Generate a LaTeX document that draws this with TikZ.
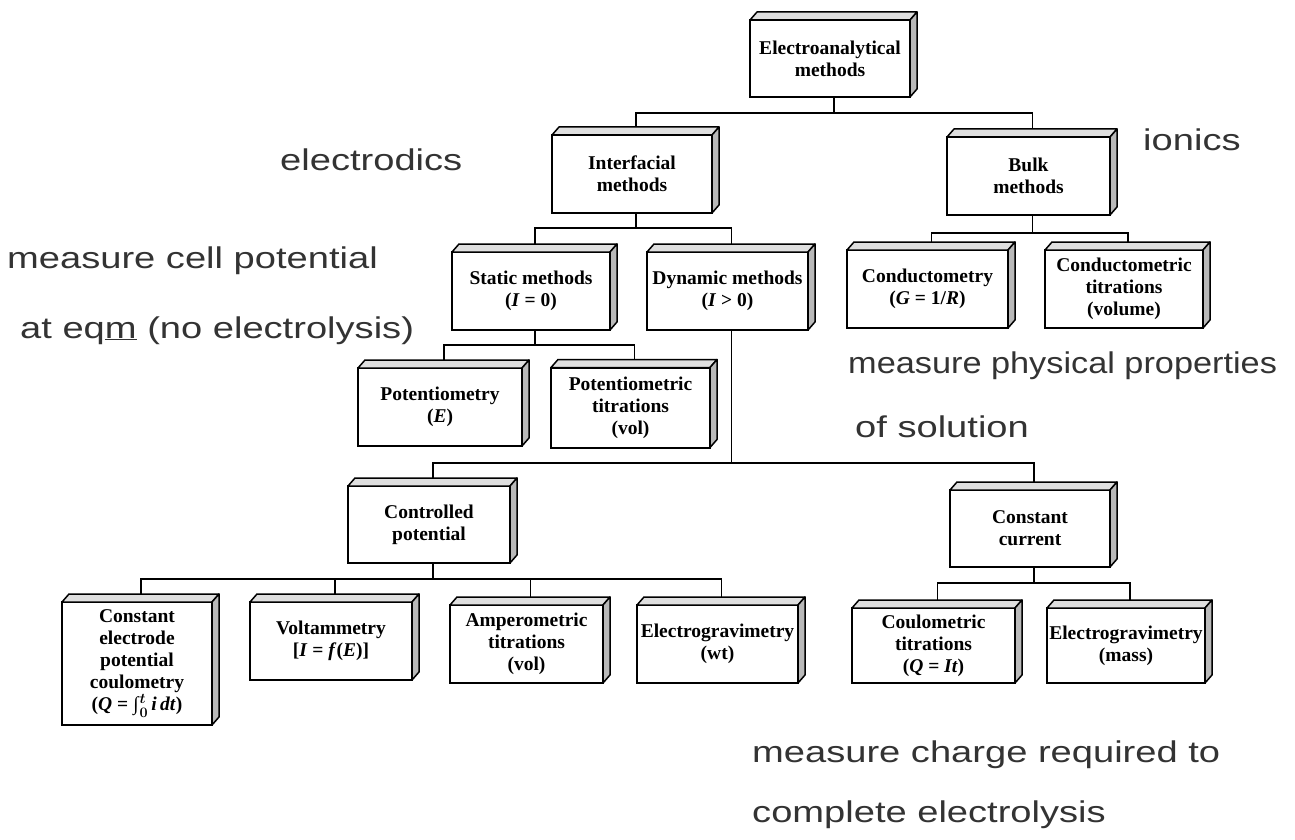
\documentclass[tikz,border=0pt]{standalone}
\usepackage{fontspec}
\setmainfont{Liberation Serif}
\newfontfamily\annotfont[FakeStretch=1.27]{Liberation Sans}
\pgfdeclarelayer{background}
\pgfsetlayers{background,main}
\tikzset{
  box/.style={draw, line width=2pt, fill=white, align=center, inner sep=1pt, outer sep=0pt,
    font=\fontsize{19.5}{22}\selectfont\bfseries},
  link/.style={line width=1.6pt},
  annot/.style={anchor=base west, inner sep=0pt, font=\annotfont\fontsize{30}{36}\selectfont, text=black!80},
  topface/.style={fill=gray!25, draw, line width=1.5pt, line join=round},
  sideface/.style={fill=gray!55, draw, line width=1.5pt, line join=round},
}
\begin{document}
\begin{tikzpicture}[x=1pt,y=-1pt]
\useasboundingbox (0,0) rectangle (1295,840);

% boxes (front faces)
\node[box, minimum width=160, minimum height=77] (elec) at (830,58.5) {Electroanalytical\\methods};
\node[box, minimum width=160, minimum height=78] (inter) at (632,174) {Interfacial\\methods};
\node[box, minimum width=163, minimum height=78] (bulk) at (1028.5,176) {Bulk\\methods};
\node[box, minimum width=158, minimum height=78] (static) at (531,291) {Static methods\\(\textit{I} = 0)};
\node[box, minimum width=161, minimum height=78] (dynamic) at (727.5,291) {Dynamic methods\\(\textit{I} {>} 0)};
\node[box, minimum width=161, minimum height=78] (cond) at (927.5,289) {Conductometry\\(\textit{G} = 1/\textit{R})};
\node[box, minimum width=158, minimum height=78] (condtitr) at (1124,289) {Conductometric\\titrations\\(volume)};
\node[box, minimum width=164, minimum height=78] (pot) at (440,407) {Potentiometry\\(\textit{E})};
\node[box, minimum width=159, minimum height=80] (pottitr) at (630.5,407.5) {Potentiometric\\titrations\\(vol)};
\node[box, minimum width=162, minimum height=77] (ctrl) at (429,524.5) {Controlled\\potential};
\node[box, minimum width=160, minimum height=77] (ccur) at (1030,528.5) {Constant\\current};
\node[box, minimum width=150, minimum height=123] (cecoul) at (137,663.5) {Constant\\electrode\\potential\\coulometry\\(\textit{Q} = \textit{∫}{\boldmath$_0^t$}\,\textit{i\,dt})};
\node[box, minimum width=162, minimum height=78] (volt) at (331,641) {Voltammetry\\{}[\textit{I} = \textit{f}(\textit{E})]};
\node[box, minimum width=153, minimum height=78] (amp) at (526.5,644) {Amperometric\\titrations\\(vol)};
\node[box, minimum width=161, minimum height=78] (egwt) at (717.5,644) {Electrogravimetry\\(wt)};
\node[box, minimum width=163, minimum height=75] (coul) at (933.5,645.5) {Coulometric\\titrations\\(\textit{Q} = \textit{It})};
\node[box, minimum width=158, minimum height=75] (egmass) at (1126,645.5) {Electrogravimetry\\(mass)};

% 3D faces and connection points
\foreach \n in {elec,inter,bulk,static,dynamic,cond,condtitr,pot,pottitr,ctrl,ccur,cecoul,volt,amp,egwt,coul,egmass}{
  \filldraw[topface] (\n.north west) -- ([shift={(7,-8)}]\n.north west) -- ([shift={(7,-8)}]\n.north east) -- (\n.north east) -- cycle;
  \filldraw[sideface] (\n.north east) -- ([shift={(7,-8)}]\n.north east) -- ([shift={(7,-8)}]\n.south east) -- (\n.south east) -- cycle;
  \coordinate (\n-t) at ([xshift=4]\n.north);
  \coordinate (\n-b) at ([xshift=4]\n.south);
}

% connectors
\begin{pgfonlayer}{background}
\draw[link] (elec-b) -- (elec-b |- 0,113);
\draw[link] (inter-t) |- (bulk-t |- 0,113) -- (bulk-t);

\draw[link] (inter-b) -- (inter-b |- 0,228);
\draw[link] (static-t) |- (dynamic-t |- 0,228) -- (dynamic-t);

\draw[link] (bulk-b) -- (bulk-b |- 0,233);
\draw[link] (cond-t) |- (condtitr-t |- 0,233) -- (condtitr-t);

\draw[link] (static-b) -- (static-b |- 0,345);
\draw[link] (pot-t) |- (pottitr-t |- 0,345) -- (pottitr-t);

\draw[link] (dynamic-b) -- (dynamic-b |- 0,463);
\draw[link] (ctrl-t) |- (ccur-t |- 0,463) -- (ccur-t);

\draw[link] (ctrl-b) -- (ctrl-b |- 0,579);
\draw[link] (cecoul-t) |- (egwt-t |- 0,579) -- (egwt-t);
\draw[link] (volt-t) -- (volt-t |- 0,579);
\draw[link] (amp-t) -- (amp-t |- 0,579);

\draw[link] (ccur-b) -- (ccur-b |- 0,583);
\draw[link] (coul-t) |- (egmass-t |- 0,583) -- (egmass-t);
\end{pgfonlayer}

% annotations
\node[annot] (a1) at (280,170) {electrodics};
\node[annot] (a2) at (1143,150) {ionics};
\node[annot] (a3) at (7,268) {measure cell potential};
\node[annot] (a4) at (20,338) {at eq\underline{m} (no electrolysis)};
\node[annot] (a5) at (848,373) {\scalebox{0.9}[1]{measure physical properties}};
\node[annot] (a6) at (855,437) {of solution};
\node[annot] (a7) at (752,762) {measure charge required to};
\node[annot] (a8) at (752,822) {complete electrolysis};
\end{tikzpicture}
\end{document}
